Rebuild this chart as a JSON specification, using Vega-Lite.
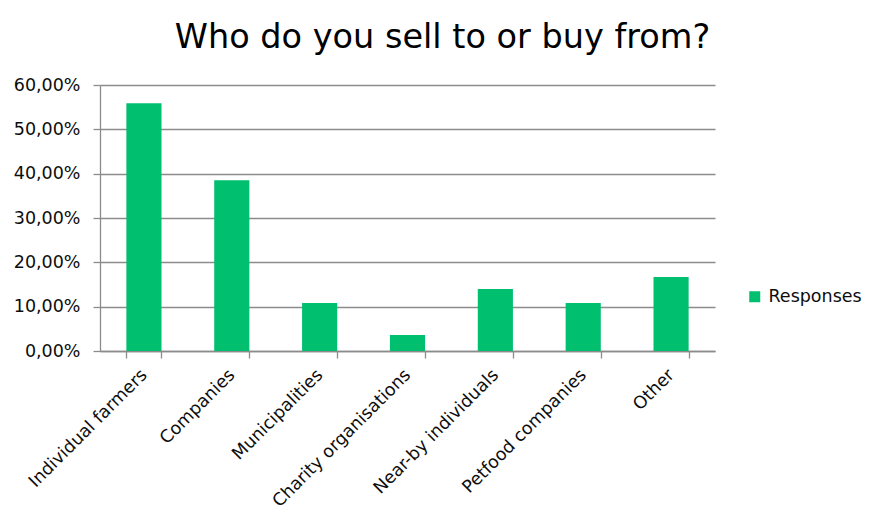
{
  "$schema": "https://vega.github.io/schema/vega-lite/v6.json",
  "width": 615,
  "height": 266,
  "autosize": {"type": "none"},
  "padding": {"left": 100, "top": 85, "right": 171, "bottom": 181},
  "background": "white",
  "config": {
    "locale": {"number": {"decimal": ",", "thousands": ".", "grouping": [3], "currency": ["", " €"]}},
    "font": "DejaVu Sans",
    "view": {"stroke": null}
  },
  "title": {
    "text": "Who do you sell to or buy from?",
    "font": "DejaVu Sans",
    "fontSize": 33.5,
    "fontWeight": "normal",
    "color": "#000000",
    "anchor": "middle",
    "frame": "group",
    "baseline": "alphabetic",
    "dx": 35,
    "offset": -5
  },
  "data": {
    "values": [
      {"category": "Individual farmers", "share": 0.559, "series": "Responses"},
      {"category": "Companies", "share": 0.385, "series": "Responses"},
      {"category": "Municipalities", "share": 0.108, "series": "Responses"},
      {"category": "Charity organisations", "share": 0.036, "series": "Responses"},
      {"category": "Near-by individuals", "share": 0.140, "series": "Responses"},
      {"category": "Petfood companies", "share": 0.108, "series": "Responses"},
      {"category": "Other", "share": 0.167, "series": "Responses"}
    ]
  },
  "mark": {"type": "bar"},
  "encoding": {
    "x": {
      "field": "category",
      "type": "nominal",
      "sort": null,
      "scale": {"paddingInner": 0.6, "paddingOuter": 0.3},
      "axis": {
        "title": null,
        "labelAngle": -45,
        "labelAlign": "right",
        "labelBaseline": "middle",
        "labelFont": "DejaVu Sans",
        "labelFontSize": 17.5,
        "labelColor": "#0d0d0d",
        "labelPadding": 14,
        "labelOffset": 0,
        "tickBand": "extent",
        "tickSize": 7,
        "tickColor": "#8c8c8c",
        "tickWidth": 1.3,
        "domainColor": "#8c8c8c",
        "domainWidth": 1.3,
        "labelLimit": 400
      }
    },
    "y": {
      "field": "share",
      "type": "quantitative",
      "scale": {"domain": [0, 0.6], "nice": false},
      "axis": {
        "title": null,
        "values": [0, 0.1, 0.2, 0.3, 0.4, 0.5, 0.6],
        "format": ".2%",
        "labelFont": "DejaVu Sans",
        "labelFontSize": 17.5,
        "labelColor": "#0d0d0d",
        "labelPadding": 13,
        "tickSize": 7,
        "tickColor": "#8c8c8c",
        "tickWidth": 1.3,
        "domainColor": "#8c8c8c",
        "domainWidth": 1.3,
        "grid": true,
        "gridColor": "#8c8c8c",
        "gridWidth": 1.3
      }
    },
    "color": {
      "field": "series",
      "type": "nominal",
      "scale": {"range": ["#00BF6F"]},
      "legend": {
        "title": null,
        "orient": "none",
        "legendX": 646,
        "legendY": 203,
        "padding": 0,
        "symbolType": "square",
        "symbolSize": 121,
        "symbolStrokeWidth": 0,
        "labelFont": "DejaVu Sans",
        "labelFontSize": 17.5,
        "labelColor": "#0d0d0d",
        "labelOffset": 5
      }
    }
  }
}
